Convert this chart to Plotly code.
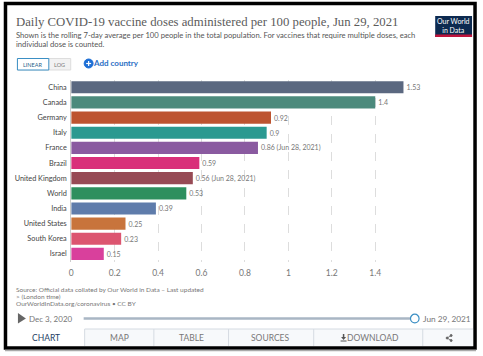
import plotly.graph_objects as go

countries = ["China", "Canada", "Germany", "Italy", "France", "Brazil", "United Kingdom",
             "World", "India", "United States", "South Korea", "Israel"]
doses = [1.53, 1.4, 0.92, 0.9, 0.86, 0.59, 0.56, 0.53, 0.39, 0.25, 0.23, 0.15]
value_labels = ["1.53", "1.4", "0.92", "0.9", "0.86 (Jun 28, 2021)", "0.59", "0.56 (Jun 28, 2021)",
                "0.53", "0.39", "0.25", "0.23", "0.15"]
bar_colors = ["#5b6880", "#4c8a7c", "#bd5430", "#2b9990", "#8a5aa0", "#d9307a", "#974a55",
              "#2e8f5e", "#5f7cab", "#c8743c", "#dc5570", "#d9409c"]
x_ticks = [0, 0.2, 0.4, 0.6, 0.8, 1, 1.2, 1.4]
x_tick_labels = ["0", "0.2", "0.4", "0.6", "0.8", "1", "1.2", "1.4"]

W, H = 483, 356
X = lambda p: p / W
Y = lambda p: 1 - p / H
SANS = "Lato, sans-serif"

fig = go.Figure(go.Bar(
    y=countries, x=doses, orientation="h",
    marker=dict(color=bar_colors, line=dict(width=0)),
    text=value_labels, textposition="outside", cliponaxis=False,
    textfont=dict(family=SANS, size=7, color="#777777"), hoverinfo="skip",
))

annotations = []
shapes = []
LEFT_SHIFT = 3


def text(px, py, s, size=8, color="#666666", family=SANS, anchor="left"):
    if anchor == "left":
        px -= LEFT_SHIFT
    annotations.append(dict(x=X(px), y=Y(py), xref="paper", yref="paper", text=s, showarrow=False,
                            xanchor=anchor, yanchor="middle", align=anchor,
                            font=dict(family=family, size=size, color=color)))


def rect(x0, y0, x1, y1, fill="rgba(0,0,0,0)", line=None, width=1):
    shapes.append(dict(type="rect", xref="paper", yref="paper", x0=X(x0), x1=X(x1), y0=Y(y0), y1=Y(y1),
                       fillcolor=fill, line=dict(color=line or "rgba(0,0,0,0)", width=width if line else 0),
                       layer="below"))


def seg(x0, y0, x1, y1, color, width=1):
    shapes.append(dict(type="line", xref="paper", yref="paper", x0=X(x0), x1=X(x1), y0=Y(y0), y1=Y(y1),
                       line=dict(color=color, width=width)))


def circ(cx, cy, r, fill, line=None, width=1):
    shapes.append(dict(type="circle", xref="paper", yref="paper", x0=X(cx - r), x1=X(cx + r),
                       y0=Y(cy - r), y1=Y(cy + r), fillcolor=fill,
                       line=dict(color=line or fill, width=width)))


def tri(pts, fill):
    path = "M " + " L ".join(f"{X(a)} {Y(b)}" for a, b in pts) + " Z"
    shapes.append(dict(type="path", xref="paper", yref="paper", path=path, fillcolor=fill, line=dict(width=0)))


# frame
rect(3.5, 3.5, 475, 348, fill="#ffffff", line="#000000", width=3.5)
seg(3, 350.5, 476, 350.5, "#aaaaaa", 1.5)

# header
text(15, 22, "Daily COVID-19 vaccine doses administered per 100 people, Jun 29, 2021", 12.75, "#5b5b5b", "Liberation Serif")
text(15, 34.5, "Shown is the rolling 7-day average per 100 people in the total population. For vaccines that require multiple doses, each", 7.65, "#555555")
text(15, 44, "individual dose is counted.", 7.65, "#555555")

# logo
rect(435, 16, 472, 37, fill="#0d2a50")
rect(435, 34.5, 472, 37, fill="#c0143c")
annotations.append(dict(x=X(453.5), y=Y(25), xref="paper", yref="paper", text="Our World<br>in Data", showarrow=False,
                        font=dict(family=SANS, size=7, color="#ffffff"), align="center", xanchor="center", yanchor="middle"))

# linear/log toggle
rect(15.5, 58.5, 69, 70, fill="#f2f2f2", line="#dddddd")
rect(15.5, 58.5, 47, 70, fill="#ffffff", line="#3b8fc4")
text(31, 64.5, "LINEAR", 5.5, "#2c5f8a", anchor="center")
text(58, 64.5, "LOG", 5.5, "#777777", anchor="center")

# add country
circ(87, 63.5, 4.5, "#1d6fd6")
seg(84.5, 63.5, 89.5, 63.5, "#ffffff", 1.2)
seg(87, 61, 87, 66, "#ffffff", 1.2)
text(92, 63.5, "<b>Add country</b>", 8, "#2a6fc4")

# footer
text(15, 289.5, "Source: Official data collated by Our World in Data – Last updated", 6.5, "#777777")
text(15, 296.5, "&gt; (London time)", 6.5, "#777777")
text(15, 303.5, "OurWorldInData.org/coronavirus • CC BY", 6.5, "#777777")

# timeline
tri([(16, 313), (24, 318.5), (16, 323.5)], "#666666")
text(28.5, 318.5, "Dec 3, 2020", 8, "#777777")
seg(82, 318.5, 411, 318.5, "#a9b6c4", 2.5)
circ(414.5, 318.5, 4.3, "#ffffff", "#3b8fc4", 1.2)
text(424, 318.5, "Jun 29, 2021", 8.3, "#777777")

# tabs
rect(83, 329, 473, 346, fill="#f7f9fb")
seg(83, 329, 473, 329, "#d5dbe2", 1)
for px in [83, 152.5, 227.5, 313, 422.5]:
    seg(px, 329, px, 346, "#d5dbe2", 1)
text(44.5, 338, "CHART", 8.5, "#1d3d63", anchor="center")
text(117.5, 338, "MAP", 8.5, "#777777", anchor="center")
text(190, 338, "TABLE", 8.5, "#777777", anchor="center")
text(270, 338, "SOURCES", 8.5, "#777777", anchor="center")
text(372.5, 338, "DOWNLOAD", 8.5, "#777777", anchor="center")
# download icon
seg(343, 334, 343, 338, "#555555", 1.5)
tri([(340.5, 337), (345.5, 337), (343, 340)], "#555555")
seg(340, 341, 346, 341, "#555555", 1)
# share icon
seg(447, 338, 451, 335.5, "#666666", 0.8)
seg(447, 338, 451, 340.5, "#666666", 0.8)
circ(447, 338, 1, "#666666")
circ(451, 335.5, 1, "#666666")
circ(451, 340.5, 1, "#666666")

fig.update_layout(
    width=W, height=H, autosize=False, margin=dict(l=0, r=0, t=0, b=0, pad=0),
    paper_bgcolor="#ffffff", plot_bgcolor="rgba(0,0,0,0)", showlegend=False,
    bargap=0.2, shapes=shapes, annotations=annotations,
    xaxis=dict(domain=[X(69.5), X(407.5)], range=[0, 1.55], tickvals=x_ticks, ticktext=x_tick_labels,
               showgrid=True, gridcolor="#dddddd", griddash="dash", gridwidth=1, zeroline=False,
               showline=False, ticks="", tickfont=dict(family=SANS, size=8.5, color="#777777"),
               ticklabelstandoff=5, anchor="y", layer="below traces"),
    yaxis=dict(domain=[Y(261.5), Y(79.7)], categoryorder="array", categoryarray=countries, autorange="reversed",
               showgrid=False, zeroline=False, showline=True, linecolor="#cccccc", linewidth=1, ticks="",
               ticklabelstandoff=2,
               tickfont=dict(family=SANS, size=7.3, color="#444444")),
)

fig.write_html("out.html", config={"displayModeBar": False},
               post_script="document.body.style.margin='0';document.body.style.overflow='hidden';")
